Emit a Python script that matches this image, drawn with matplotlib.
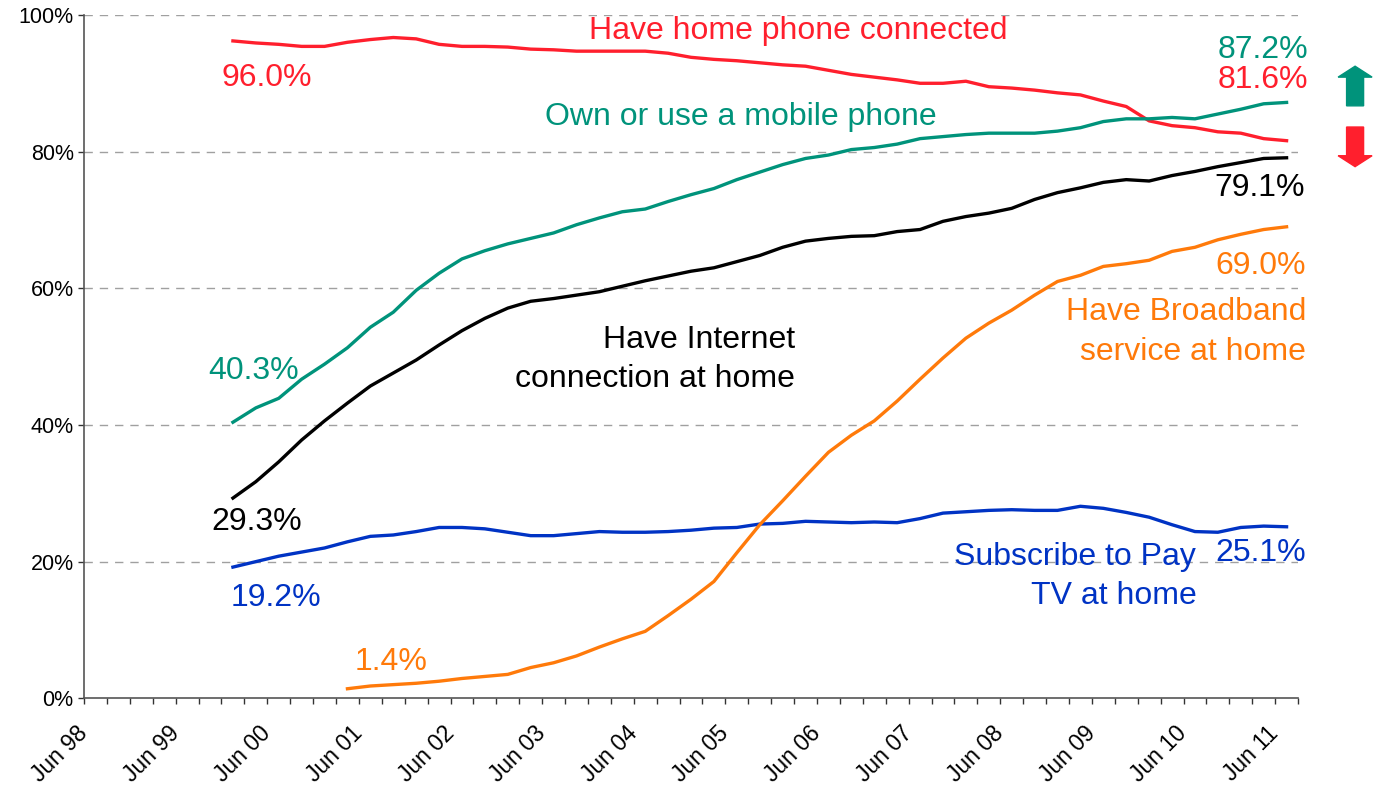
import numpy as np
import matplotlib.pyplot as plt
from matplotlib.patches import FancyArrow

plt.rcParams['font.family'] = ['Liberation Sans', 'DejaVu Sans']

# quarterly readings, Feb 2000 .. Aug 2011 (broadband starts May 2001)
quarters = 2000.125 + 0.25 * np.arange(47)
bb_quarters = quarters[5:]

home_phone = [96.2, 95.9, 95.7, 95.4, 95.4, 96.0, 96.4, 96.7, 96.5, 95.7, 95.4, 95.4, 95.3, 95.0,
              94.9, 94.7, 94.7, 94.7, 94.7, 94.4, 93.8, 93.5, 93.3, 93.0, 92.7, 92.5, 91.9,
              91.3, 90.9, 90.5, 90.0, 90.0, 90.3, 89.5, 89.3, 89.0, 88.6, 88.3,
              87.4, 86.6, 84.5, 83.8, 83.5, 82.9, 82.7, 81.9, 81.6]
mobile = [40.4, 42.5, 43.9, 46.7, 48.9, 51.3, 54.3, 56.5, 59.7, 62.2, 64.3, 65.5, 66.5, 67.3,
          68.1, 69.3, 70.3, 71.2, 71.6, 72.7, 73.7, 74.6, 75.9, 77.0, 78.1, 79.0, 79.5,
          80.3, 80.6, 81.1, 81.9, 82.2, 82.5, 82.7, 82.7, 82.7, 83.0, 83.5,
          84.4, 84.8, 84.8, 85.0, 84.8, 85.5, 86.2, 87.0, 87.2]
internet = [29.3, 31.7, 34.6, 37.8, 40.6, 43.2, 45.7, 47.6, 49.5, 51.7, 53.8, 55.6, 57.1, 58.1,
            58.5, 59.0, 59.5, 60.3, 61.1, 61.8, 62.5, 63.0, 63.9, 64.8, 66.0, 66.9, 67.3,
            67.6, 67.7, 68.3, 68.6, 69.8, 70.5, 71.0, 71.7, 73.0, 74.0, 74.7,
            75.5, 75.9, 75.7, 76.5, 77.1, 77.8, 78.4, 79.0, 79.1]
pay_tv = [19.2, 20.0, 20.8, 21.4, 22.0, 22.9, 23.7, 23.9, 24.4, 25.0, 25.0, 24.8, 24.3, 23.8,
          23.8, 24.1, 24.4, 24.3, 24.3, 24.4, 24.6, 24.9, 25.0, 25.5, 25.6, 25.9, 25.8,
          25.7, 25.8, 25.7, 26.3, 27.1, 27.3, 27.5, 27.6, 27.5, 27.5, 28.1,
          27.8, 27.2, 26.5, 25.4, 24.4, 24.3, 25.0, 25.2, 25.1]
broadband = [1.4, 1.8, 2.0, 2.2, 2.5, 2.9, 3.2, 3.5, 4.5,
             5.2, 6.2, 7.5, 8.7, 9.8, 12.1, 14.5, 17.1, 21.3, 25.4, 28.9, 32.5, 36.0,
             38.5, 40.6, 43.5, 46.7, 49.8, 52.7, 54.9, 56.8, 59.0, 61.0, 61.9, 63.2,
             63.6, 64.1, 65.4, 66.0, 67.1, 67.9, 68.6, 69.0]

year_labels = ['Jun 98', 'Jun 99', 'Jun 00', 'Jun 01', 'Jun 02', 'Jun 03', 'Jun 04',
               'Jun 05', 'Jun 06', 'Jun 07', 'Jun 08', 'Jun 09', 'Jun 10', 'Jun 11']

RED = '#ff1f2d'
GREEN = '#00937b'
BLACK = '#000000'
BLUE = '#0033c4'
ORANGE = '#ff7a0a'

fig = plt.figure(figsize=(13.8, 7.87), dpi=100)
ax = fig.add_axes([0.0609, 0.1127, 0.8797, 0.8683])

lw = 2.4
ax.plot(quarters, home_phone, color=RED, lw=lw)
ax.plot(quarters, mobile, color=GREEN, lw=lw)
ax.plot(quarters, internet, color=BLACK, lw=lw)
ax.plot(quarters, pay_tv, color=BLUE, lw=lw)
ax.plot(bb_quarters, broadband, color=ORANGE, lw=lw)

ax.set_xlim(1998.5, 2011.75)
ax.set_ylim(0, 100)

# ticks every quarter, labels each June
tick_pos = 1998.5 + 0.25 * np.arange(54)
ax.set_xticks(tick_pos)
labels = []
for i in range(len(tick_pos)):
    labels.append(year_labels[i // 4] if i % 4 == 0 and i // 4 < len(year_labels) else '')
ax.set_xticklabels(labels, rotation=45, ha='right', va='center',
                   rotation_mode='anchor', fontsize=16.5)
ax.tick_params(axis='x', length=4.5, width=1, color='#333333', pad=18)

ax.set_yticks([0, 20, 40, 60, 80, 100])
ax.set_yticklabels(['0%', '20%', '40%', '60%', '80%', '100%'], fontsize=15.5)
ax.tick_params(axis='y', length=4.5, width=1, color='#333333', pad=3)

for v in [20, 40, 60, 80, 100]:
    ax.axhline(v, color='#a0a0a0', lw=1, ls=(0, (6, 5)), zorder=0)

for s in ['top', 'right']:
    ax.spines[s].set_visible(False)
for s in ['left', 'bottom']:
    ax.spines[s].set_color('#555555')
    ax.spines[s].set_linewidth(1.2)

fs = 23
ls2 = 1.4
ax.text(2006.30, 97.6, 'Have home phone connected', color=RED, fontsize=fs, ha='center', va='center')
ax.text(2000.49, 90.8, '96.0%', color=RED, fontsize=fs, ha='center', va='center')
ax.text(2011.86, 94.9, '87.2%', color=GREEN, fontsize=fs, ha='right', va='center')
ax.text(2011.86, 90.5, '81.6%', color=RED, fontsize=fs, ha='right', va='center')
ax.text(2005.67, 85.0, 'Own or use a mobile phone', color=GREEN, fontsize=fs, ha='center', va='center')
ax.text(2011.83, 74.7, '79.1%', color=BLACK, fontsize=fs, ha='right', va='center')
ax.text(2011.84, 63.2, '69.0%', color=ORANGE, fontsize=fs, ha='right', va='center')
ax.text(2011.84, 53.6, 'Have Broadband\nservice at home', color=ORANGE, fontsize=fs,
        ha='right', va='center', multialignment='right', linespacing=ls2)
ax.text(2006.26, 49.6, 'Have Internet\nconnection at home', color=BLACK, fontsize=fs,
        ha='right', va='center', multialignment='right', linespacing=ls2)
ax.text(2000.35, 47.9, '40.3%', color=GREEN, fontsize=fs, ha='center', va='center')
ax.text(2000.38, 25.8, '29.3%', color=BLACK, fontsize=fs, ha='center', va='center')
ax.text(2000.59, 14.7, '19.2%', color=BLUE, fontsize=fs, ha='center', va='center')
ax.text(2001.85, 5.3, '1.4%', color=ORANGE, fontsize=fs, ha='center', va='center')
ax.text(2010.64, 17.8, 'Subscribe to Pay\nTV at home', color=BLUE, fontsize=fs,
        ha='right', va='center', multialignment='right', linespacing=ls2)
ax.text(2011.84, 21.2, '25.1%', color=BLUE, fontsize=fs, ha='right', va='center')

# trend arrows to the right of the plot
ax.add_patch(FancyArrow(1.047, 0.867, 0, 0.058, width=0.014, head_width=0.028,
                        head_length=0.016, length_includes_head=True, color=GREEN,
                        transform=ax.transAxes, clip_on=False))
ax.add_patch(FancyArrow(1.047, 0.836, 0, -0.058, width=0.014, head_width=0.028,
                        head_length=0.016, length_includes_head=True, color=RED,
                        transform=ax.transAxes, clip_on=False))

fig.savefig('out.png', dpi=100)
